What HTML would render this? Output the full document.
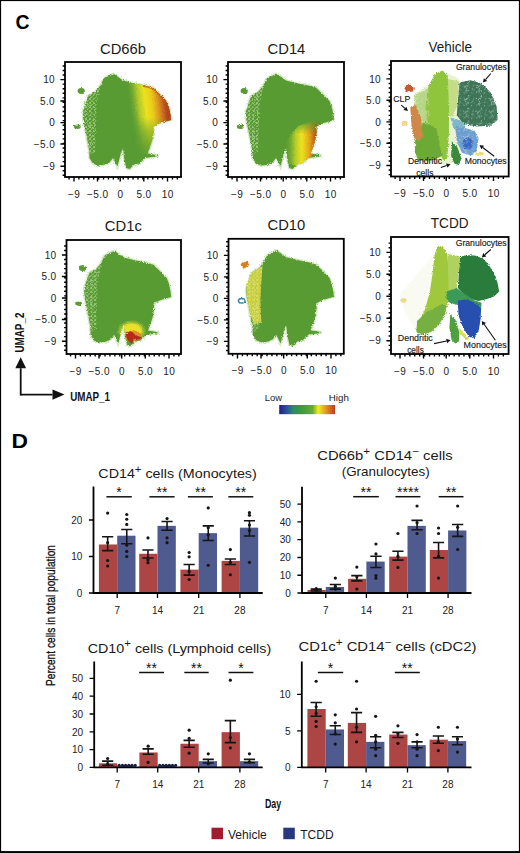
<!DOCTYPE html><html><head><meta charset="utf-8"><style>html,body{margin:0;padding:0;background:#fff;}svg{display:block}</style></head><body><svg width="520" height="853" viewBox="0 0 520 853" font-family='"Liberation Sans", sans-serif'>
<defs>
<filter id="rough" x="-5%" y="-5%" width="110%" height="110%"><feTurbulence type="fractalNoise" baseFrequency="0.9" numOctaves="2" seed="3" result="n"/><feDisplacementMap in="SourceGraphic" in2="n" scale="3" xChannelSelector="R" yChannelSelector="G"/></filter>
<pattern id="wspk" width="14" height="14" patternUnits="userSpaceOnUse"><g fill="#fff" opacity="0.55"><circle cx="8.7" cy="10.4" r="0.63"/><circle cx="13.2" cy="10.4" r="0.67"/><circle cx="0.4" cy="6.5" r="0.68"/><circle cx="9.1" cy="12.6" r="0.39"/><circle cx="6.6" cy="3.5" r="0.54"/><circle cx="8.0" cy="0.2" r="0.43"/><circle cx="3.9" cy="12.8" r="0.62"/><circle cx="2.2" cy="11.2" r="0.40"/><circle cx="8.6" cy="1.8" r="0.35"/><circle cx="12.2" cy="2.9" r="0.43"/><circle cx="13.8" cy="12.2" r="0.45"/><circle cx="13.5" cy="7.5" r="0.59"/><circle cx="2.9" cy="13.2" r="0.59"/><circle cx="13.5" cy="12.5" r="0.45"/><circle cx="5.1" cy="2.3" r="0.40"/><circle cx="0.9" cy="4.2" r="0.56"/><circle cx="0.0" cy="9.5" r="0.47"/><circle cx="4.3" cy="11.5" r="0.52"/><circle cx="4.4" cy="6.7" r="0.60"/><circle cx="0.8" cy="13.7" r="0.36"/><circle cx="10.5" cy="11.8" r="0.36"/><circle cx="11.0" cy="5.1" r="0.55"/></g></pattern>
<pattern id="wspk4" width="56" height="56" patternUnits="userSpaceOnUse"><g fill="#fff" opacity="0.6"><circle cx="0.5" cy="2.6" r="1.85"/><circle cx="53.5" cy="11.0" r="2.66"/><circle cx="52.1" cy="52.8" r="2.08"/><circle cx="19.9" cy="29.4" r="2.69"/><circle cx="6.1" cy="41.9" r="2.72"/><circle cx="48.1" cy="2.1" r="2.92"/><circle cx="5.1" cy="19.1" r="2.46"/><circle cx="51.4" cy="19.0" r="2.89"/><circle cx="30.5" cy="17.5" r="2.04"/><circle cx="9.9" cy="4.4" r="1.81"/><circle cx="38.6" cy="55.8" r="1.83"/><circle cx="2.7" cy="55.3" r="2.35"/><circle cx="22.7" cy="13.3" r="2.43"/><circle cx="46.3" cy="25.5" r="2.19"/><circle cx="3.1" cy="51.3" r="1.65"/><circle cx="27.6" cy="47.0" r="1.78"/><circle cx="41.0" cy="53.2" r="2.48"/><circle cx="44.1" cy="6.0" r="2.21"/><circle cx="8.4" cy="47.3" r="2.01"/><circle cx="25.4" cy="56.0" r="2.79"/><circle cx="54.7" cy="25.4" r="2.28"/><circle cx="40.9" cy="26.8" r="2.01"/><circle cx="22.6" cy="8.2" r="2.13"/><circle cx="55.3" cy="53.7" r="2.48"/></g></pattern>
<pattern id="speck" width="4" height="4" patternUnits="userSpaceOnUse"><circle cx="1" cy="1" r="0.85" fill="#e4f4d4" opacity="0.85"/><circle cx="3" cy="2.6" r="0.6" fill="#b8e094" opacity="0.85"/><circle cx="2.2" cy="3.6" r="0.45" fill="#f0faea" opacity="0.8"/></pattern>
<linearGradient id="gCD66" x1="56" y1="50" x2="104" y2="44" gradientUnits="userSpaceOnUse"><stop offset="0.16" stop-color="#589b32" stop-opacity="0"/><stop offset="0.38" stop-color="#b4ca2a" stop-opacity="0.95"/><stop offset="0.52" stop-color="#ece21e"/><stop offset="0.66" stop-color="#eacc1c"/><stop offset="0.8" stop-color="#d88a22"/><stop offset="0.93" stop-color="#b8481e"/><stop offset="1" stop-color="#a83a1c"/></linearGradient>
<linearGradient id="gFade" x1="0" y1="55" x2="0" y2="95" gradientUnits="userSpaceOnUse"><stop offset="0" stop-color="#fff"/><stop offset="0.35" stop-color="#888"/><stop offset="1" stop-color="#000"/></linearGradient>
<linearGradient id="gFade2" x1="0" y1="58" x2="0" y2="72" gradientUnits="userSpaceOnUse"><stop offset="0" stop-color="#000"/><stop offset="1" stop-color="#fff"/></linearGradient>
<mask id="mFade2" maskUnits="userSpaceOnUse" x="0" y="0" width="120" height="120"><rect x="0" y="0" width="120" height="120" fill="url(#gFade2)"/></mask>
<mask id="mFade" maskUnits="userSpaceOnUse" x="0" y="0" width="120" height="120"><rect x="0" y="0" width="120" height="120" fill="url(#gFade)"/></mask>
<linearGradient id="gCD14" x1="56" y1="0" x2="88.5" y2="0" gradientUnits="userSpaceOnUse"><stop offset="0" stop-color="#589b32" stop-opacity="0"/><stop offset="0.35" stop-color="#b4cc2a"/><stop offset="0.55" stop-color="#eee21e"/><stop offset="0.78" stop-color="#e2a41e"/><stop offset="1" stop-color="#b84a1c"/></linearGradient>
<linearGradient id="gCB" x1="0" y1="0" x2="1" y2="0"><stop offset="0" stop-color="#23207a"/><stop offset="0.12" stop-color="#2a4aa0"/><stop offset="0.25" stop-color="#2f8a6a"/><stop offset="0.4" stop-color="#3f9a3a"/><stop offset="0.6" stop-color="#6aaa30"/><stop offset="0.7" stop-color="#f2ec20"/><stop offset="0.82" stop-color="#e8a020"/><stop offset="1" stop-color="#c03a20"/></linearGradient>
<radialGradient id="gYel" cx="0.5" cy="0.5" r="0.5"><stop offset="0" stop-color="#f0e020"/><stop offset="0.6" stop-color="#e8e030"/><stop offset="1" stop-color="#b8d040" stop-opacity="0"/></radialGradient>
<radialGradient id="gHot" cx="0.5" cy="0.7" r="0.6"><stop offset="0" stop-color="#c0301c"/><stop offset="0.35" stop-color="#d8701e"/><stop offset="0.6" stop-color="#eadc24"/><stop offset="1" stop-color="#c8d440" stop-opacity="0"/></radialGradient>
</defs>
<rect x="0" y="0" width="520" height="853" fill="#fff"/>
<text transform="translate(15.6,28.7) scale(0.95,1)" font-size="20.5" font-weight="bold" fill="#000">C</text>
<text transform="translate(11.4,447.8) scale(1.13,1)" font-size="20.2" font-weight="bold" fill="#000">D</text>
<text x="100" y="53.6" font-size="14" fill="#1a1a1a" textLength="46" lengthAdjust="spacingAndGlyphs">CD66b</text>
<text x="267.6" y="53.6" font-size="14" fill="#1a1a1a" textLength="37.7" lengthAdjust="spacingAndGlyphs">CD14</text>
<text x="428.5" y="51.6" font-size="14" fill="#1a1a1a" textLength="43.5" lengthAdjust="spacingAndGlyphs">Vehicle</text>
<text x="104.8" y="231" font-size="14" fill="#1a1a1a" textLength="37" lengthAdjust="spacingAndGlyphs">CD1c</text>
<text x="267.5" y="229.6" font-size="14" fill="#1a1a1a" textLength="37.7" lengthAdjust="spacingAndGlyphs">CD10</text>
<text x="430.8" y="228.3" font-size="14" fill="#1a1a1a" textLength="37.7" lengthAdjust="spacingAndGlyphs">TCDD</text>
<g filter="url(#rough)"><g transform="translate(65,62) scale(1.0000,1.0000)">
<clipPath id="clipp1"><path d="M48.5 11.7 L52.4 14.5 L58.0 18.4 L69.2 21.2 L80.3 23.4 L88.1 25.7 L94.8 32.3 L101.5 39.0 L103.7 44.6 L105.4 52.4 L106.0 58.0 L94.8 61.3 L88.1 64.7 L88.7 69.2 L87.6 77.0 L84.8 85.9 L82.5 91.5 L92.6 93.2 L92.6 94.2 L80.3 95.9 L74.7 101.5 L69.2 102.6 L64.7 107.1 L61.3 106.0 L59.1 95.9 L58.0 85.9 L55.8 91.5 L52.4 104.8 L48.0 95.9 L44.6 100.4 L40.2 102.6 L33.5 103.7 L27.9 101.5 L24.5 95.9 L24.0 87.0 L22.3 78.0 L18.4 58.0 L17.8 50.0 L20.1 42.4 L23.4 33.5 L30.1 30.1 L34.6 24.5 L39.0 16.2 Z"/></clipPath>
<ellipse cx="16.2" cy="29" rx="3.6" ry="2.9" fill="#589b32"/><ellipse cx="12.3" cy="64.7" rx="3.4" ry="2.2" fill="#589b32"/>
<path d="M48.5 11.7 L52.4 14.5 L58.0 18.4 L69.2 21.2 L80.3 23.4 L88.1 25.7 L94.8 32.3 L101.5 39.0 L103.7 44.6 L105.4 52.4 L106.0 58.0 L94.8 61.3 L88.1 64.7 L88.7 69.2 L87.6 77.0 L84.8 85.9 L82.5 91.5 L92.6 93.2 L92.6 94.2 L80.3 95.9 L74.7 101.5 L69.2 102.6 L64.7 107.1 L61.3 106.0 L59.1 95.9 L58.0 85.9 L55.8 91.5 L52.4 104.8 L48.0 95.9 L44.6 100.4 L40.2 102.6 L33.5 103.7 L27.9 101.5 L24.5 95.9 L24.0 87.0 L22.3 78.0 L18.4 58.0 L17.8 50.0 L20.1 42.4 L23.4 33.5 L30.1 30.1 L34.6 24.5 L39.0 16.2 Z" fill="none" stroke="#c4e0a8" stroke-width="2.6" stroke-opacity="0.7"/>
<path d="M48.5 11.7 L52.4 14.5 L58.0 18.4 L69.2 21.2 L80.3 23.4 L88.1 25.7 L94.8 32.3 L101.5 39.0 L103.7 44.6 L105.4 52.4 L106.0 58.0 L94.8 61.3 L88.1 64.7 L88.7 69.2 L87.6 77.0 L84.8 85.9 L82.5 91.5 L92.6 93.2 L92.6 94.2 L80.3 95.9 L74.7 101.5 L69.2 102.6 L64.7 107.1 L61.3 106.0 L59.1 95.9 L58.0 85.9 L55.8 91.5 L52.4 104.8 L48.0 95.9 L44.6 100.4 L40.2 102.6 L33.5 103.7 L27.9 101.5 L24.5 95.9 L24.0 87.0 L22.3 78.0 L18.4 58.0 L17.8 50.0 L20.1 42.4 L23.4 33.5 L30.1 30.1 L34.6 24.5 L39.0 16.2 Z" fill="#589b32"/>
<g clip-path="url(#clipp1)"><path d="M14 20 L38 14 L32 40 L30 90 L20 95 Z" fill="url(#speck)"/><rect x="0" y="0" width="116" height="116" fill="url(#gCD66)" mask="url(#mFade)"/><path d="M78 23 L88.1 25.7 L94.8 32.3 L101.5 39 L103.7 44.6 L105.4 52.4 L106 58" fill="none" stroke="#c0501e" stroke-width="3" stroke-opacity="0.7"/></g>
</g></g>
<rect x="65" y="62" width="116" height="115" fill="none" stroke="#000" stroke-width="1.8"/>
<path d="M69.08 177v2.4 M74.00 177v2.4 M78.92 177v2.4 M83.84 177v2.4 M88.76 177v2.4 M93.68 177v2.4 M98.61 177v2.4 M103.53 177v2.4 M108.45 177v2.4 M113.37 177v2.4 M118.29 177v2.4 M123.21 177v2.4 M128.13 177v2.4 M133.05 177v2.4 M137.97 177v2.4 M142.89 177v2.4 M147.82 177v2.4 M152.74 177v2.4 M157.66 177v2.4 M162.58 177v2.4 M167.50 177v2.4 M172.42 177v2.4 M177.34 177v2.4 M74.00 177v4.6 M97.50 177v4.6 M120.20 177v4.6 M143.80 177v4.6 M167.50 177v4.6 M65 65.93h-2.4 M65 70.48h-2.4 M65 75.04h-2.4 M65 79.60h-2.4 M65 84.16h-2.4 M65 88.72h-2.4 M65 93.27h-2.4 M65 97.83h-2.4 M65 102.39h-2.4 M65 106.95h-2.4 M65 111.51h-2.4 M65 116.06h-2.4 M65 120.62h-2.4 M65 125.18h-2.4 M65 129.74h-2.4 M65 134.29h-2.4 M65 138.85h-2.4 M65 143.41h-2.4 M65 147.97h-2.4 M65 152.53h-2.4 M65 157.08h-2.4 M65 161.64h-2.4 M65 166.20h-2.4 M65 170.76h-2.4 M65 175.32h-2.4 M65 79.60h-4.6 M65 101.00h-4.6 M65 122.60h-4.6 M65 144.00h-4.6 M65 166.20h-4.6" stroke="#000" stroke-width="1.4" fill="none"/>
<text x="74.2" y="197.5" text-anchor="middle" font-size="10" fill="#222" letter-spacing="0.4">−9</text>
<text x="97.7" y="197.5" text-anchor="middle" font-size="10" fill="#222" letter-spacing="0.4">−5.0</text>
<text x="120.4" y="197.5" text-anchor="middle" font-size="10" fill="#222" letter-spacing="0.4">0</text>
<text x="144.0" y="197.5" text-anchor="middle" font-size="10" fill="#222" letter-spacing="0.4">5.0</text>
<text x="167.7" y="197.5" text-anchor="middle" font-size="10" fill="#222" letter-spacing="0.4">10</text>
<text x="55.1" y="83.2" text-anchor="end" font-size="10" fill="#222" letter-spacing="0.4">10</text>
<text x="55.1" y="104.6" text-anchor="end" font-size="10" fill="#222" letter-spacing="0.4">5.0</text>
<text x="55.1" y="126.2" text-anchor="end" font-size="10" fill="#222" letter-spacing="0.4">0</text>
<text x="55.1" y="147.6" text-anchor="end" font-size="10" fill="#222" letter-spacing="0.4">−5.0</text>
<text x="55.1" y="169.8" text-anchor="end" font-size="10" fill="#222" letter-spacing="0.4">−9</text>
<g filter="url(#rough)"><g transform="translate(228,62) scale(1.0000,1.0000)">
<clipPath id="clipp2"><path d="M48.5 11.7 L52.4 14.5 L58.0 18.4 L69.2 21.2 L80.3 23.4 L88.1 25.7 L94.8 32.3 L101.5 39.0 L103.7 44.6 L105.4 52.4 L106.0 58.0 L94.8 61.3 L88.1 64.7 L88.7 69.2 L87.6 77.0 L84.8 85.9 L82.5 91.5 L92.6 93.2 L92.6 94.2 L80.3 95.9 L74.7 101.5 L69.2 102.6 L64.7 107.1 L61.3 106.0 L59.1 95.9 L58.0 85.9 L55.8 91.5 L52.4 104.8 L48.0 95.9 L44.6 100.4 L40.2 102.6 L33.5 103.7 L27.9 101.5 L24.5 95.9 L24.0 87.0 L22.3 78.0 L18.4 58.0 L17.8 50.0 L20.1 42.4 L23.4 33.5 L30.1 30.1 L34.6 24.5 L39.0 16.2 Z"/></clipPath>
<ellipse cx="16.2" cy="29" rx="3.6" ry="2.9" fill="#589b32"/><ellipse cx="12.3" cy="64.7" rx="3.4" ry="2.2" fill="#589b32"/>
<path d="M48.5 11.7 L52.4 14.5 L58.0 18.4 L69.2 21.2 L80.3 23.4 L88.1 25.7 L94.8 32.3 L101.5 39.0 L103.7 44.6 L105.4 52.4 L106.0 58.0 L94.8 61.3 L88.1 64.7 L88.7 69.2 L87.6 77.0 L84.8 85.9 L82.5 91.5 L92.6 93.2 L92.6 94.2 L80.3 95.9 L74.7 101.5 L69.2 102.6 L64.7 107.1 L61.3 106.0 L59.1 95.9 L58.0 85.9 L55.8 91.5 L52.4 104.8 L48.0 95.9 L44.6 100.4 L40.2 102.6 L33.5 103.7 L27.9 101.5 L24.5 95.9 L24.0 87.0 L22.3 78.0 L18.4 58.0 L17.8 50.0 L20.1 42.4 L23.4 33.5 L30.1 30.1 L34.6 24.5 L39.0 16.2 Z" fill="none" stroke="#c4e0a8" stroke-width="2.6" stroke-opacity="0.7"/>
<path d="M48.5 11.7 L52.4 14.5 L58.0 18.4 L69.2 21.2 L80.3 23.4 L88.1 25.7 L94.8 32.3 L101.5 39.0 L103.7 44.6 L105.4 52.4 L106.0 58.0 L94.8 61.3 L88.1 64.7 L88.7 69.2 L87.6 77.0 L84.8 85.9 L82.5 91.5 L92.6 93.2 L92.6 94.2 L80.3 95.9 L74.7 101.5 L69.2 102.6 L64.7 107.1 L61.3 106.0 L59.1 95.9 L58.0 85.9 L55.8 91.5 L52.4 104.8 L48.0 95.9 L44.6 100.4 L40.2 102.6 L33.5 103.7 L27.9 101.5 L24.5 95.9 L24.0 87.0 L22.3 78.0 L18.4 58.0 L17.8 50.0 L20.1 42.4 L23.4 33.5 L30.1 30.1 L34.6 24.5 L39.0 16.2 Z" fill="#589b32"/>
<g clip-path="url(#clipp2)"><path d="M14 20 L38 14 L32 40 L30 90 L20 95 Z" fill="url(#speck)"/><path d="M54 84 L70 64 L92 56 L90 88 L82 95 L75 106 L56 100 Z" fill="url(#gCD14)" mask="url(#mFade2)"/></g>
</g></g>
<rect x="228" y="62" width="116" height="115" fill="none" stroke="#000" stroke-width="1.8"/>
<path d="M232.08 177v2.4 M237.00 177v2.4 M241.92 177v2.4 M246.84 177v2.4 M251.76 177v2.4 M256.68 177v2.4 M261.61 177v2.4 M266.53 177v2.4 M271.45 177v2.4 M276.37 177v2.4 M281.29 177v2.4 M286.21 177v2.4 M291.13 177v2.4 M296.05 177v2.4 M300.97 177v2.4 M305.89 177v2.4 M310.82 177v2.4 M315.74 177v2.4 M320.66 177v2.4 M325.58 177v2.4 M330.50 177v2.4 M335.42 177v2.4 M340.34 177v2.4 M237.00 177v4.6 M260.50 177v4.6 M283.20 177v4.6 M306.80 177v4.6 M330.50 177v4.6 M228 65.93h-2.4 M228 70.48h-2.4 M228 75.04h-2.4 M228 79.60h-2.4 M228 84.16h-2.4 M228 88.72h-2.4 M228 93.27h-2.4 M228 97.83h-2.4 M228 102.39h-2.4 M228 106.95h-2.4 M228 111.51h-2.4 M228 116.06h-2.4 M228 120.62h-2.4 M228 125.18h-2.4 M228 129.74h-2.4 M228 134.29h-2.4 M228 138.85h-2.4 M228 143.41h-2.4 M228 147.97h-2.4 M228 152.53h-2.4 M228 157.08h-2.4 M228 161.64h-2.4 M228 166.20h-2.4 M228 170.76h-2.4 M228 175.32h-2.4 M228 79.60h-4.6 M228 101.00h-4.6 M228 122.60h-4.6 M228 144.00h-4.6 M228 166.20h-4.6" stroke="#000" stroke-width="1.4" fill="none"/>
<text x="237.2" y="197.5" text-anchor="middle" font-size="10" fill="#222" letter-spacing="0.4">−9</text>
<text x="260.7" y="197.5" text-anchor="middle" font-size="10" fill="#222" letter-spacing="0.4">−5.0</text>
<text x="283.4" y="197.5" text-anchor="middle" font-size="10" fill="#222" letter-spacing="0.4">0</text>
<text x="307.0" y="197.5" text-anchor="middle" font-size="10" fill="#222" letter-spacing="0.4">5.0</text>
<text x="330.7" y="197.5" text-anchor="middle" font-size="10" fill="#222" letter-spacing="0.4">10</text>
<text x="218.1" y="83.2" text-anchor="end" font-size="10" fill="#222" letter-spacing="0.4">10</text>
<text x="218.1" y="104.6" text-anchor="end" font-size="10" fill="#222" letter-spacing="0.4">5.0</text>
<text x="218.1" y="126.2" text-anchor="end" font-size="10" fill="#222" letter-spacing="0.4">0</text>
<text x="218.1" y="147.6" text-anchor="end" font-size="10" fill="#222" letter-spacing="0.4">−5.0</text>
<text x="218.1" y="169.8" text-anchor="end" font-size="10" fill="#222" letter-spacing="0.4">−9</text>
<g filter="url(#rough)"><g transform="translate(66.5,239) scale(0.9871,1.0000)">
<clipPath id="clipp4"><path d="M48.5 11.7 L52.4 14.5 L58.0 18.4 L69.2 21.2 L80.3 23.4 L88.1 25.7 L94.8 32.3 L101.5 39.0 L103.7 44.6 L105.4 52.4 L106.0 58.0 L94.8 61.3 L88.1 64.7 L88.7 69.2 L87.6 77.0 L84.8 85.9 L82.5 91.5 L92.6 93.2 L92.6 94.2 L80.3 95.9 L74.7 101.5 L69.2 102.6 L64.7 107.1 L61.3 106.0 L59.1 95.9 L58.0 85.9 L55.8 91.5 L52.4 104.8 L48.0 95.9 L44.6 100.4 L40.2 102.6 L33.5 103.7 L27.9 101.5 L24.5 95.9 L24.0 87.0 L22.3 78.0 L18.4 58.0 L17.8 50.0 L20.1 42.4 L23.4 33.5 L30.1 30.1 L34.6 24.5 L39.0 16.2 Z"/></clipPath>
<ellipse cx="16.2" cy="29" rx="3.6" ry="2.9" fill="#589b32"/><ellipse cx="12.3" cy="64.7" rx="3.4" ry="2.2" fill="#589b32"/>
<path d="M48.5 11.7 L52.4 14.5 L58.0 18.4 L69.2 21.2 L80.3 23.4 L88.1 25.7 L94.8 32.3 L101.5 39.0 L103.7 44.6 L105.4 52.4 L106.0 58.0 L94.8 61.3 L88.1 64.7 L88.7 69.2 L87.6 77.0 L84.8 85.9 L82.5 91.5 L92.6 93.2 L92.6 94.2 L80.3 95.9 L74.7 101.5 L69.2 102.6 L64.7 107.1 L61.3 106.0 L59.1 95.9 L58.0 85.9 L55.8 91.5 L52.4 104.8 L48.0 95.9 L44.6 100.4 L40.2 102.6 L33.5 103.7 L27.9 101.5 L24.5 95.9 L24.0 87.0 L22.3 78.0 L18.4 58.0 L17.8 50.0 L20.1 42.4 L23.4 33.5 L30.1 30.1 L34.6 24.5 L39.0 16.2 Z" fill="none" stroke="#c4e0a8" stroke-width="2.6" stroke-opacity="0.7"/>
<path d="M48.5 11.7 L52.4 14.5 L58.0 18.4 L69.2 21.2 L80.3 23.4 L88.1 25.7 L94.8 32.3 L101.5 39.0 L103.7 44.6 L105.4 52.4 L106.0 58.0 L94.8 61.3 L88.1 64.7 L88.7 69.2 L87.6 77.0 L84.8 85.9 L82.5 91.5 L92.6 93.2 L92.6 94.2 L80.3 95.9 L74.7 101.5 L69.2 102.6 L64.7 107.1 L61.3 106.0 L59.1 95.9 L58.0 85.9 L55.8 91.5 L52.4 104.8 L48.0 95.9 L44.6 100.4 L40.2 102.6 L33.5 103.7 L27.9 101.5 L24.5 95.9 L24.0 87.0 L22.3 78.0 L18.4 58.0 L17.8 50.0 L20.1 42.4 L23.4 33.5 L30.1 30.1 L34.6 24.5 L39.0 16.2 Z" fill="#589b32"/>
<g clip-path="url(#clipp4)"><path d="M14 20 L38 14 L32 40 L30 90 L20 95 Z" fill="url(#speck)"/><ellipse cx="66" cy="92" rx="15" ry="11" fill="url(#gYel)"/><ellipse cx="67.5" cy="97" rx="8.5" ry="5.5" fill="#dc7a1e" opacity="0.75"/><path d="M59.5 95 L65 92 L70 96 L77 99 L72 100.5 L68 99.5 L66.5 105 L62 101 Z" fill="#b42a1c"/></g>
</g></g>
<rect x="66.5" y="240" width="114.5" height="114" fill="none" stroke="#000" stroke-width="1.8"/>
<path d="M70.58 354v2.4 M75.50 354v2.4 M80.42 354v2.4 M85.34 354v2.4 M90.26 354v2.4 M95.18 354v2.4 M100.11 354v2.4 M105.03 354v2.4 M109.95 354v2.4 M114.87 354v2.4 M119.79 354v2.4 M124.71 354v2.4 M129.63 354v2.4 M134.55 354v2.4 M139.47 354v2.4 M144.39 354v2.4 M149.32 354v2.4 M154.24 354v2.4 M159.16 354v2.4 M164.08 354v2.4 M169.00 354v2.4 M173.92 354v2.4 M178.84 354v2.4 M75.50 354v4.6 M99.00 354v4.6 M121.70 354v4.6 M145.30 354v4.6 M169.00 354v4.6 M66.5 245.93h-2.4 M66.5 250.46h-2.4 M66.5 255.00h-2.4 M66.5 259.54h-2.4 M66.5 264.07h-2.4 M66.5 268.61h-2.4 M66.5 273.15h-2.4 M66.5 277.68h-2.4 M66.5 282.22h-2.4 M66.5 286.76h-2.4 M66.5 291.29h-2.4 M66.5 295.83h-2.4 M66.5 300.37h-2.4 M66.5 304.91h-2.4 M66.5 309.44h-2.4 M66.5 313.98h-2.4 M66.5 318.52h-2.4 M66.5 323.05h-2.4 M66.5 327.59h-2.4 M66.5 332.13h-2.4 M66.5 336.66h-2.4 M66.5 341.20h-2.4 M66.5 345.74h-2.4 M66.5 350.27h-2.4 M66.5 255.00h-4.6 M66.5 276.50h-4.6 M66.5 298.00h-4.6 M66.5 319.50h-4.6 M66.5 341.20h-4.6" stroke="#000" stroke-width="1.4" fill="none"/>
<text x="75.7" y="374.5" text-anchor="middle" font-size="10" fill="#222" letter-spacing="0.4">−9</text>
<text x="99.2" y="374.5" text-anchor="middle" font-size="10" fill="#222" letter-spacing="0.4">−5.0</text>
<text x="121.9" y="374.5" text-anchor="middle" font-size="10" fill="#222" letter-spacing="0.4">0</text>
<text x="145.5" y="374.5" text-anchor="middle" font-size="10" fill="#222" letter-spacing="0.4">5.0</text>
<text x="169.2" y="374.5" text-anchor="middle" font-size="10" fill="#222" letter-spacing="0.4">10</text>
<text x="56.6" y="258.6" text-anchor="end" font-size="10" fill="#222" letter-spacing="0.4">10</text>
<text x="56.6" y="280.1" text-anchor="end" font-size="10" fill="#222" letter-spacing="0.4">5.0</text>
<text x="56.6" y="301.6" text-anchor="end" font-size="10" fill="#222" letter-spacing="0.4">0</text>
<text x="56.6" y="323.1" text-anchor="end" font-size="10" fill="#222" letter-spacing="0.4">−5.0</text>
<text x="56.6" y="344.8" text-anchor="end" font-size="10" fill="#222" letter-spacing="0.4">−9</text>
<g filter="url(#rough)"><g transform="translate(228.5,238.8) scale(0.9940,1.0000)">
<clipPath id="clipp5"><path d="M48.5 11.7 L52.4 14.5 L58.0 18.4 L69.2 21.2 L80.3 23.4 L88.1 25.7 L94.8 32.3 L101.5 39.0 L103.7 44.6 L105.4 52.4 L106.0 58.0 L94.8 61.3 L88.1 64.7 L88.7 69.2 L87.6 77.0 L84.8 85.9 L82.5 91.5 L92.6 93.2 L92.6 94.2 L80.3 95.9 L74.7 101.5 L69.2 102.6 L64.7 107.1 L61.3 106.0 L59.1 95.9 L58.0 85.9 L55.8 91.5 L52.4 104.8 L48.0 95.9 L44.6 100.4 L40.2 102.6 L33.5 103.7 L27.9 101.5 L24.5 95.9 L24.0 87.0 L22.3 78.0 L18.4 58.0 L17.8 50.0 L20.1 42.4 L23.4 33.5 L30.1 30.1 L34.6 24.5 L39.0 16.2 Z"/></clipPath>
<path d="M12 25 L19 22 L21 27 L15 30 Z" fill="#d8801e"/><ellipse cx="13.4" cy="62" rx="3.4" ry="2.3" fill="none" stroke="#3a80a8" stroke-width="1.4"/>
<path d="M48.5 11.7 L52.4 14.5 L58.0 18.4 L69.2 21.2 L80.3 23.4 L88.1 25.7 L94.8 32.3 L101.5 39.0 L103.7 44.6 L105.4 52.4 L106.0 58.0 L94.8 61.3 L88.1 64.7 L88.7 69.2 L87.6 77.0 L84.8 85.9 L82.5 91.5 L92.6 93.2 L92.6 94.2 L80.3 95.9 L74.7 101.5 L69.2 102.6 L64.7 107.1 L61.3 106.0 L59.1 95.9 L58.0 85.9 L55.8 91.5 L52.4 104.8 L48.0 95.9 L44.6 100.4 L40.2 102.6 L33.5 103.7 L27.9 101.5 L24.5 95.9 L24.0 87.0 L22.3 78.0 L18.4 58.0 L17.8 50.0 L20.1 42.4 L23.4 33.5 L30.1 30.1 L34.6 24.5 L39.0 16.2 Z" fill="none" stroke="#c4e0a8" stroke-width="2.6" stroke-opacity="0.7"/>
<path d="M48.5 11.7 L52.4 14.5 L58.0 18.4 L69.2 21.2 L80.3 23.4 L88.1 25.7 L94.8 32.3 L101.5 39.0 L103.7 44.6 L105.4 52.4 L106.0 58.0 L94.8 61.3 L88.1 64.7 L88.7 69.2 L87.6 77.0 L84.8 85.9 L82.5 91.5 L92.6 93.2 L92.6 94.2 L80.3 95.9 L74.7 101.5 L69.2 102.6 L64.7 107.1 L61.3 106.0 L59.1 95.9 L58.0 85.9 L55.8 91.5 L52.4 104.8 L48.0 95.9 L44.6 100.4 L40.2 102.6 L33.5 103.7 L27.9 101.5 L24.5 95.9 L24.0 87.0 L22.3 78.0 L18.4 58.0 L17.8 50.0 L20.1 42.4 L23.4 33.5 L30.1 30.1 L34.6 24.5 L39.0 16.2 Z" fill="#589b32"/>
<g clip-path="url(#clipp5)"><path d="M14 20 L38 14 L32 40 L30 90 L20 95 Z" fill="url(#speck)"/><path d="M17 40 L26 30 L34 28 L32 60 L33 84 L26 86 L20 70 Z" fill="#e2d62a" opacity="0.8"/><path d="M17 40 L26 30 L34 28 L32 60 L33 84 L26 86 L20 70 Z" fill="url(#speck)"/></g>
</g></g>
<rect x="228.5" y="238.8" width="115.30000000000001" height="115.0" fill="none" stroke="#000" stroke-width="1.8"/>
<path d="M232.58 353.8v2.4 M237.50 353.8v2.4 M242.42 353.8v2.4 M247.34 353.8v2.4 M252.26 353.8v2.4 M257.18 353.8v2.4 M262.11 353.8v2.4 M267.03 353.8v2.4 M271.95 353.8v2.4 M276.87 353.8v2.4 M281.79 353.8v2.4 M286.71 353.8v2.4 M291.63 353.8v2.4 M296.55 353.8v2.4 M301.47 353.8v2.4 M306.39 353.8v2.4 M311.32 353.8v2.4 M316.24 353.8v2.4 M321.16 353.8v2.4 M326.08 353.8v2.4 M331.00 353.8v2.4 M335.92 353.8v2.4 M340.84 353.8v2.4 M237.50 353.8v4.6 M261.00 353.8v4.6 M283.70 353.8v4.6 M307.30 353.8v4.6 M331.00 353.8v4.6 M228.5 241.82h-2.4 M228.5 246.35h-2.4 M228.5 250.87h-2.4 M228.5 255.40h-2.4 M228.5 259.93h-2.4 M228.5 264.45h-2.4 M228.5 268.98h-2.4 M228.5 273.51h-2.4 M228.5 278.03h-2.4 M228.5 282.56h-2.4 M228.5 287.08h-2.4 M228.5 291.61h-2.4 M228.5 296.14h-2.4 M228.5 300.66h-2.4 M228.5 305.19h-2.4 M228.5 309.72h-2.4 M228.5 314.24h-2.4 M228.5 318.77h-2.4 M228.5 323.29h-2.4 M228.5 327.82h-2.4 M228.5 332.35h-2.4 M228.5 336.87h-2.4 M228.5 341.40h-2.4 M228.5 345.93h-2.4 M228.5 350.45h-2.4 M228.5 255.40h-4.6 M228.5 276.90h-4.6 M228.5 298.40h-4.6 M228.5 319.90h-4.6 M228.5 341.40h-4.6" stroke="#000" stroke-width="1.4" fill="none"/>
<text x="237.7" y="374.3" text-anchor="middle" font-size="10" fill="#222" letter-spacing="0.4">−9</text>
<text x="261.2" y="374.3" text-anchor="middle" font-size="10" fill="#222" letter-spacing="0.4">−5.0</text>
<text x="283.9" y="374.3" text-anchor="middle" font-size="10" fill="#222" letter-spacing="0.4">0</text>
<text x="307.5" y="374.3" text-anchor="middle" font-size="10" fill="#222" letter-spacing="0.4">5.0</text>
<text x="331.2" y="374.3" text-anchor="middle" font-size="10" fill="#222" letter-spacing="0.4">10</text>
<text x="218.6" y="259.0" text-anchor="end" font-size="10" fill="#222" letter-spacing="0.4">10</text>
<text x="218.6" y="280.5" text-anchor="end" font-size="10" fill="#222" letter-spacing="0.4">5.0</text>
<text x="218.6" y="302.0" text-anchor="end" font-size="10" fill="#222" letter-spacing="0.4">0</text>
<text x="218.6" y="323.5" text-anchor="end" font-size="10" fill="#222" letter-spacing="0.4">−5.0</text>
<text x="218.6" y="345.0" text-anchor="end" font-size="10" fill="#222" letter-spacing="0.4">−9</text>
<g filter="url(#rough)"><g transform="translate(391,61) scale(0.22692,0.22603)">
<path d="M100.0 150.0 L170.0 100.0 L230.0 45.0 L300.0 80.0 L310.0 270.0 L300.0 440.0 L240.0 460.0 L110.0 440.0 L95.0 300.0 Z" fill="#d8e8b0" opacity="0.55"/>
<path d="M105.0 150.0 L165.0 120.0 L175.0 300.0 L170.0 430.0 L115.0 425.0 L98.0 300.0 Z" fill="#a8d070" opacity="0.8"/>
<path d="M250.0 80.0 L300.0 90.0 L290.0 200.0 L270.0 250.0 L255.0 240.0 Z" fill="#c4dc88" />
<path d="M195.0 55.0 L228.0 42.0 L250.0 70.0 L256.0 200.0 L255.0 330.0 L248.0 430.0 L232.0 445.0 L222.0 420.0 L165.0 300.0 L152.0 200.0 L165.0 110.0 Z" fill="#8fc43c" />
<path d="M110.0 300.0 L150.0 270.0 L200.0 300.0 L225.0 420.0 L180.0 440.0 L120.0 440.0 L105.0 400.0 Z" fill="#6aaa34" />
<path d="M302.0 95.0 L350.0 85.0 L400.0 100.0 L440.0 140.0 L465.0 200.0 L470.0 260.0 L440.0 285.0 L380.0 290.0 L320.0 280.0 L290.0 240.0 L296.0 160.0 Z" fill="#3c7456" />
<path d="M262.0 250.0 L305.0 262.0 L330.0 290.0 L300.0 310.0 L275.0 300.0 Z" fill="#80b8c8" />
<path d="M282.0 285.0 L325.0 295.0 L368.0 310.0 L386.0 340.0 L378.0 395.0 L350.0 420.0 L312.0 405.0 L290.0 355.0 Z" fill="#6c9ed0" />
<ellipse cx="338" cy="365" rx="22" ry="28" fill="#3a68c0"/>
<path d="M302.0 95.0 L350.0 85.0 L400.0 100.0 L440.0 140.0 L465.0 200.0 L470.0 260.0 L440.0 285.0 L380.0 290.0 L320.0 280.0 L290.0 240.0 L296.0 160.0 Z" fill="url(#wspk4)" />
<path d="M282.0 285.0 L325.0 295.0 L368.0 310.0 L386.0 340.0 L378.0 395.0 L350.0 420.0 L312.0 405.0 L290.0 355.0 Z" fill="url(#wspk4)" />
<path d="M105.0 150.0 L165.0 120.0 L170.0 280.0 L100.0 290.0 Z" fill="url(#wspk4)" />
<path d="M268.0 355.0 L292.0 380.0 L310.0 430.0 L300.0 460.0 L280.0 455.0 L265.0 420.0 Z" fill="#3a8a3a" />
<path d="M85.0 205.0 L108.0 195.0 L132.0 250.0 L140.0 330.0 L125.0 355.0 L102.0 340.0 L90.0 280.0 Z" fill="#d08848" />
<path d="M58.0 120.0 L80.0 100.0 L100.0 118.0 L98.0 135.0 L70.0 138.0 Z" fill="#c45a30" />
<ellipse cx="60" cy="275" rx="14" ry="11" fill="#f0d890"/>
<ellipse cx="390" cy="410" rx="20" ry="9" fill="#e8e070"/>
</g></g>
<rect x="391" y="61" width="117.69999999999999" height="115.5" fill="none" stroke="#000" stroke-width="1.8"/>
<path d="M395.08 176.5v2.4 M400.00 176.5v2.4 M404.92 176.5v2.4 M409.84 176.5v2.4 M414.76 176.5v2.4 M419.68 176.5v2.4 M424.61 176.5v2.4 M429.53 176.5v2.4 M434.45 176.5v2.4 M439.37 176.5v2.4 M444.29 176.5v2.4 M449.21 176.5v2.4 M454.13 176.5v2.4 M459.05 176.5v2.4 M463.97 176.5v2.4 M468.89 176.5v2.4 M473.82 176.5v2.4 M478.74 176.5v2.4 M483.66 176.5v2.4 M488.58 176.5v2.4 M493.50 176.5v2.4 M498.42 176.5v2.4 M503.34 176.5v2.4 M400.00 176.5v4.6 M423.50 176.5v4.6 M446.20 176.5v4.6 M469.80 176.5v4.6 M493.50 176.5v4.6 M391 65.23h-2.4 M391 69.78h-2.4 M391 74.34h-2.4 M391 78.90h-2.4 M391 83.46h-2.4 M391 88.02h-2.4 M391 92.57h-2.4 M391 97.13h-2.4 M391 101.69h-2.4 M391 106.25h-2.4 M391 110.81h-2.4 M391 115.36h-2.4 M391 119.92h-2.4 M391 124.48h-2.4 M391 129.04h-2.4 M391 133.59h-2.4 M391 138.15h-2.4 M391 142.71h-2.4 M391 147.27h-2.4 M391 151.83h-2.4 M391 156.38h-2.4 M391 160.94h-2.4 M391 165.50h-2.4 M391 170.06h-2.4 M391 174.62h-2.4 M391 78.90h-4.6 M391 100.30h-4.6 M391 121.90h-4.6 M391 143.30h-4.6 M391 165.50h-4.6" stroke="#000" stroke-width="1.4" fill="none"/>
<text x="400.2" y="197.0" text-anchor="middle" font-size="10" fill="#222" letter-spacing="0.4">−9</text>
<text x="423.7" y="197.0" text-anchor="middle" font-size="10" fill="#222" letter-spacing="0.4">−5.0</text>
<text x="446.4" y="197.0" text-anchor="middle" font-size="10" fill="#222" letter-spacing="0.4">0</text>
<text x="470.0" y="197.0" text-anchor="middle" font-size="10" fill="#222" letter-spacing="0.4">5.0</text>
<text x="493.7" y="197.0" text-anchor="middle" font-size="10" fill="#222" letter-spacing="0.4">10</text>
<text x="381.1" y="82.5" text-anchor="end" font-size="10" fill="#222" letter-spacing="0.4">10</text>
<text x="381.1" y="103.9" text-anchor="end" font-size="10" fill="#222" letter-spacing="0.4">5.0</text>
<text x="381.1" y="125.5" text-anchor="end" font-size="10" fill="#222" letter-spacing="0.4">0</text>
<text x="381.1" y="146.9" text-anchor="end" font-size="10" fill="#222" letter-spacing="0.4">−5.0</text>
<text x="381.1" y="169.1" text-anchor="end" font-size="10" fill="#222" letter-spacing="0.4">−9</text>
<g filter="url(#rough)"><g transform="translate(391,237) scale(0.22635,0.22674)">
<path d="M40.0 250.0 L120.0 160.0 L200.0 60.0 L260.0 100.0 L260.0 300.0 L200.0 420.0 L120.0 430.0 L60.0 330.0 Z" fill="#dfe8b8" opacity="0.2"/>
<path d="M205.0 45.0 L228.0 40.0 L248.0 75.0 L255.0 140.0 L258.0 250.0 L250.0 300.0 L230.0 350.0 L200.0 390.0 L165.0 420.0 L130.0 430.0 L115.0 415.0 L120.0 380.0 L150.0 320.0 L172.0 240.0 L185.0 150.0 L192.0 80.0 Z" fill="#a0c83c" />
<path d="M115.0 370.0 L160.0 330.0 L220.0 300.0 L245.0 300.0 L240.0 340.0 L210.0 390.0 L175.0 420.0 L135.0 432.0 L112.0 420.0 Z" fill="#76b040" />
<path d="M250.0 75.0 L305.0 85.0 L300.0 150.0 L290.0 230.0 L255.0 250.0 Z" fill="#b0d060" />
<path d="M305.0 88.0 L335.0 80.0 L370.0 82.0 L405.0 95.0 L430.0 120.0 L455.0 160.0 L470.0 200.0 L478.0 240.0 L455.0 262.0 L420.0 275.0 L385.0 282.0 L350.0 272.0 L320.0 250.0 L295.0 225.0 L300.0 160.0 Z" fill="#2b7b3e" />
<path d="M245.0 240.0 L290.0 225.0 L330.0 255.0 L370.0 280.0 L400.0 290.0 L398.0 320.0 L370.0 335.0 L330.0 320.0 L295.0 300.0 L260.0 290.0 L245.0 270.0 Z" fill="#3a9a58" />
<path d="M295.0 280.0 L335.0 275.0 L375.0 292.0 L398.0 315.0 L396.0 360.0 L388.0 410.0 L370.0 445.0 L345.0 440.0 L318.0 400.0 L298.0 345.0 Z" fill="#2650b0" />
<path d="M262.0 340.0 L285.0 365.0 L302.0 420.0 L300.0 460.0 L285.0 470.0 L268.0 455.0 L258.0 400.0 Z" fill="#50a040" />
<path d="M300.0 400.0 L320.0 420.0 L345.0 450.0 L335.0 455.0 L305.0 430.0 Z" fill="#d8dc50" />
<ellipse cx="55" cy="280" rx="14" ry="10" fill="#e8dc90"/>
</g></g>
<rect x="391" y="237" width="117.60000000000002" height="117" fill="none" stroke="#000" stroke-width="1.8"/>
<path d="M395.08 354v2.4 M400.00 354v2.4 M404.92 354v2.4 M409.84 354v2.4 M414.76 354v2.4 M419.68 354v2.4 M424.61 354v2.4 M429.53 354v2.4 M434.45 354v2.4 M439.37 354v2.4 M444.29 354v2.4 M449.21 354v2.4 M454.13 354v2.4 M459.05 354v2.4 M463.97 354v2.4 M468.89 354v2.4 M473.82 354v2.4 M478.74 354v2.4 M483.66 354v2.4 M488.58 354v2.4 M493.50 354v2.4 M498.42 354v2.4 M503.34 354v2.4 M400.00 354v4.6 M423.50 354v4.6 M446.20 354v4.6 M469.80 354v4.6 M493.50 354v4.6 M391 243.11h-2.4 M391 247.75h-2.4 M391 252.40h-2.4 M391 257.05h-2.4 M391 261.69h-2.4 M391 266.34h-2.4 M391 270.99h-2.4 M391 275.64h-2.4 M391 280.28h-2.4 M391 284.93h-2.4 M391 289.58h-2.4 M391 294.23h-2.4 M391 298.87h-2.4 M391 303.52h-2.4 M391 308.17h-2.4 M391 312.82h-2.4 M391 317.46h-2.4 M391 322.11h-2.4 M391 326.76h-2.4 M391 331.41h-2.4 M391 336.05h-2.4 M391 340.70h-2.4 M391 345.35h-2.4 M391 349.99h-2.4 M391 252.40h-4.6 M391 274.20h-4.6 M391 296.30h-4.6 M391 318.20h-4.6 M391 340.70h-4.6" stroke="#000" stroke-width="1.4" fill="none"/>
<text x="400.2" y="374.5" text-anchor="middle" font-size="10" fill="#222" letter-spacing="0.4">−9</text>
<text x="423.7" y="374.5" text-anchor="middle" font-size="10" fill="#222" letter-spacing="0.4">−5.0</text>
<text x="446.4" y="374.5" text-anchor="middle" font-size="10" fill="#222" letter-spacing="0.4">0</text>
<text x="470.0" y="374.5" text-anchor="middle" font-size="10" fill="#222" letter-spacing="0.4">5.0</text>
<text x="493.7" y="374.5" text-anchor="middle" font-size="10" fill="#222" letter-spacing="0.4">10</text>
<text x="381.1" y="256.0" text-anchor="end" font-size="10" fill="#222" letter-spacing="0.4">10</text>
<text x="381.1" y="277.8" text-anchor="end" font-size="10" fill="#222" letter-spacing="0.4">5.0</text>
<text x="381.1" y="299.9" text-anchor="end" font-size="10" fill="#222" letter-spacing="0.4">0</text>
<text x="381.1" y="321.8" text-anchor="end" font-size="10" fill="#222" letter-spacing="0.4">−5.0</text>
<text x="381.1" y="344.3" text-anchor="end" font-size="10" fill="#222" letter-spacing="0.4">−9</text>
<text x="455.9" y="70.2" font-size="9" fill="#1a1a1a" stroke="#1a1a1a" stroke-width="0.15" textLength="51" lengthAdjust="spacingAndGlyphs">Granulocytes</text>
<line x1="490.8" y1="73.5" x2="485.52" y2="79.58" stroke="#111" stroke-width="1.1"/><polygon points="482.9,82.6 483.86,78.14 487.18,81.02" fill="#111"/>
<text x="393.3" y="101.8" font-size="9" fill="#1a1a1a" stroke="#1a1a1a" stroke-width="0.15" textLength="17" lengthAdjust="spacingAndGlyphs">CLP</text>
<line x1="401.2" y1="105.2" x2="404.93" y2="108.33" stroke="#111" stroke-width="1.1"/><polygon points="408,110.9 403.52,110.02 406.35,106.64" fill="#111"/>
<text x="408" y="164.2" font-size="9" fill="#1a1a1a" stroke="#1a1a1a" stroke-width="0.15" textLength="34" lengthAdjust="spacingAndGlyphs">Dendritic</text>
<text x="416.2" y="175.6" font-size="9" fill="#1a1a1a" stroke="#1a1a1a" stroke-width="0.15" textLength="17.3" lengthAdjust="spacingAndGlyphs">cells</text>
<line x1="440.9" y1="167.6" x2="446.73" y2="165.54" stroke="#111" stroke-width="1.1"/><polygon points="450.5,164.2 447.46,167.61 446.00,163.46" fill="#111"/>
<text x="464.7" y="164.2" font-size="9" fill="#1a1a1a" stroke="#1a1a1a" stroke-width="0.15" textLength="42" lengthAdjust="spacingAndGlyphs">Monocytes</text>
<line x1="494.2" y1="156.3" x2="482.67" y2="147.44" stroke="#111" stroke-width="1.1"/><polygon points="479.5,145 484.01,145.69 481.33,149.18" fill="#111"/>
<text x="455.7" y="246.1" font-size="9" fill="#1a1a1a" stroke="#1a1a1a" stroke-width="0.15" textLength="51" lengthAdjust="spacingAndGlyphs">Granulocytes</text>
<line x1="490.8" y1="249.5" x2="484.81" y2="254.76" stroke="#111" stroke-width="1.1"/><polygon points="481.8,257.4 483.35,253.11 486.26,256.41" fill="#111"/>
<text x="397.8" y="341.3" font-size="9" fill="#1a1a1a" stroke="#1a1a1a" stroke-width="0.15" textLength="35" lengthAdjust="spacingAndGlyphs">Dendritic</text>
<text x="407.2" y="352.7" font-size="9" fill="#1a1a1a" stroke="#1a1a1a" stroke-width="0.15" textLength="16.6" lengthAdjust="spacingAndGlyphs">cells</text>
<line x1="434.1" y1="343.6" x2="446.58" y2="341.01" stroke="#111" stroke-width="1.1"/><polygon points="450.5,340.2 447.03,343.17 446.14,338.86" fill="#111"/>
<text x="463.6" y="348.1" font-size="9" fill="#1a1a1a" stroke="#1a1a1a" stroke-width="0.15" textLength="43" lengthAdjust="spacingAndGlyphs">Monocytes</text>
<line x1="495.4" y1="340.2" x2="484.11" y2="324.26" stroke="#111" stroke-width="1.1"/><polygon points="481.8,321 485.91,322.99 482.32,325.54" fill="#111"/>
<line x1="20.7" y1="395.5" x2="20.70" y2="368.20" stroke="#111" stroke-width="1.8"/><polygon points="20.7,357.2 26.10,368.20 15.30,368.20" fill="#111"/>
<line x1="20.7" y1="394.6" x2="52.50" y2="394.60" stroke="#111" stroke-width="1.8"/><polygon points="64.5,394.6 52.50,399.80 52.50,389.40" fill="#111"/>
<text transform="translate(23.5,352.6) rotate(-90)" font-size="12.5" font-weight="bold" fill="#111" textLength="40" lengthAdjust="spacingAndGlyphs">UMAP_2</text>
<text x="70.3" y="400.8" font-size="12.5" font-weight="bold" fill="#111" textLength="39.7" lengthAdjust="spacingAndGlyphs">UMAP_1</text>
<rect x="279.2" y="405" width="55.8" height="9.2" fill="url(#gCB)"/>
<text x="264.8" y="400.8" font-size="9" fill="#222" textLength="17.3" lengthAdjust="spacingAndGlyphs">Low</text>
<text x="328.8" y="400.8" font-size="9" fill="#222" textLength="20" lengthAdjust="spacingAndGlyphs">High</text>
<rect x="98.90" y="544.46" width="18.3" height="48.55" fill="#ac4544"/>
<rect x="117.20" y="535.70" width="18.3" height="57.30" fill="#4f5a8e"/>
<rect x="139.20" y="553.76" width="18.3" height="39.24" fill="#ac4544"/>
<rect x="157.50" y="525.84" width="18.3" height="67.16" fill="#4f5a8e"/>
<rect x="180.40" y="569.64" width="18.3" height="23.36" fill="#ac4544"/>
<rect x="198.70" y="533.14" width="18.3" height="59.86" fill="#4f5a8e"/>
<rect x="221.60" y="560.88" width="18.3" height="32.12" fill="#ac4544"/>
<rect x="239.90" y="527.66" width="18.3" height="65.33" fill="#4f5a8e"/>
<path d="M107.65 550.66V536.79M102.05 550.66h11.2M102.05 536.79h11.2" stroke="#151515" stroke-width="1.6" fill="none"/>
<circle cx="107.65" cy="513.07" r="1.6" fill="#151515"/>
<circle cx="107.65" cy="542.63" r="1.6" fill="#151515"/>
<circle cx="107.65" cy="560.51" r="1.6" fill="#151515"/>
<circle cx="107.65" cy="565.99" r="1.6" fill="#151515"/>
<path d="M126.75 543.73V529.49M121.15 543.73h11.2M121.15 529.49h11.2" stroke="#151515" stroke-width="1.6" fill="none"/>
<circle cx="126.75" cy="514.52" r="1.6" fill="#151515"/>
<circle cx="126.75" cy="519.27" r="1.6" fill="#151515"/>
<circle cx="126.75" cy="524.38" r="1.6" fill="#151515"/>
<circle cx="126.75" cy="545.18" r="1.6" fill="#151515"/>
<circle cx="126.75" cy="551.39" r="1.6" fill="#151515"/>
<circle cx="126.75" cy="556.50" r="1.6" fill="#151515"/>
<path d="M147.95 557.96V549.93M142.35 557.96h11.2M142.35 549.93h11.2" stroke="#151515" stroke-width="1.6" fill="none"/>
<circle cx="147.95" cy="537.88" r="1.6" fill="#151515"/>
<circle cx="147.95" cy="559.78" r="1.6" fill="#151515"/>
<circle cx="147.95" cy="562.71" r="1.6" fill="#151515"/>
<path d="M167.05 530.22V521.46M161.45 530.22h11.2M161.45 521.46h11.2" stroke="#151515" stroke-width="1.6" fill="none"/>
<circle cx="167.05" cy="518.54" r="1.6" fill="#151515"/>
<circle cx="167.05" cy="537.88" r="1.6" fill="#151515"/>
<circle cx="167.05" cy="542.63" r="1.6" fill="#151515"/>
<path d="M189.15 575.12V564.53M183.55 575.12h11.2M183.55 564.53h11.2" stroke="#151515" stroke-width="1.6" fill="none"/>
<circle cx="189.15" cy="552.49" r="1.6" fill="#151515"/>
<circle cx="189.15" cy="556.87" r="1.6" fill="#151515"/>
<circle cx="189.15" cy="571.47" r="1.6" fill="#151515"/>
<circle cx="189.15" cy="579.50" r="1.6" fill="#151515"/>
<path d="M208.25 540.44V525.84M202.65 540.44h11.2M202.65 525.84h11.2" stroke="#151515" stroke-width="1.6" fill="none"/>
<circle cx="208.25" cy="507.95" r="1.6" fill="#151515"/>
<circle cx="208.25" cy="527.66" r="1.6" fill="#151515"/>
<circle cx="208.25" cy="534.97" r="1.6" fill="#151515"/>
<circle cx="208.25" cy="565.26" r="1.6" fill="#151515"/>
<path d="M230.35 564.53V559.05M224.75 564.53h11.2M224.75 559.05h11.2" stroke="#151515" stroke-width="1.6" fill="none"/>
<circle cx="230.35" cy="549.57" r="1.6" fill="#151515"/>
<circle cx="230.35" cy="562.34" r="1.6" fill="#151515"/>
<circle cx="230.35" cy="574.75" r="1.6" fill="#151515"/>
<path d="M249.45 536.06V520.73M243.85 536.06h11.2M243.85 520.73h11.2" stroke="#151515" stroke-width="1.6" fill="none"/>
<circle cx="249.45" cy="512.70" r="1.6" fill="#151515"/>
<circle cx="249.45" cy="515.25" r="1.6" fill="#151515"/>
<circle cx="249.45" cy="525.11" r="1.6" fill="#151515"/>
<circle cx="249.45" cy="530.59" r="1.6" fill="#151515"/>
<circle cx="249.45" cy="562.34" r="1.6" fill="#151515"/>
<path d="M93.5 486.5V593H262.7" stroke="#000" stroke-width="1.8" fill="none"/>
<text x="82.3" y="596.70" text-anchor="end" font-size="10" fill="#222">0</text>
<text x="82.3" y="560.20" text-anchor="end" font-size="10" fill="#222">10</text>
<text x="82.3" y="523.70" text-anchor="end" font-size="10" fill="#222">20</text>
<path d="M93.5 593.00h-4.6 M93.5 556.50h-4.6 M93.5 520.00h-4.6 M117.20 593v5 M157.50 593v5 M198.70 593v5 M239.90 593v5" stroke="#000" stroke-width="1.3"/>
<text x="117.20" y="613.6" text-anchor="middle" font-size="10" fill="#222">7</text>
<text x="157.50" y="613.6" text-anchor="middle" font-size="10" fill="#222">14</text>
<text x="198.70" y="613.6" text-anchor="middle" font-size="10" fill="#222">21</text>
<text x="239.90" y="613.6" text-anchor="middle" font-size="10" fill="#222">28</text>
<path d="M106.4 496.8H131.8" stroke="#111" stroke-width="1.5"/>
<text x="119.10" y="497.0" text-anchor="middle" font-size="14" fill="#111">*</text>
<path d="M149.4 496.8H174.6" stroke="#111" stroke-width="1.5"/>
<text x="162.00" y="497.0" text-anchor="middle" font-size="14" fill="#111">**</text>
<path d="M187.9 496.8H212.9" stroke="#111" stroke-width="1.5"/>
<text x="200.40" y="497.0" text-anchor="middle" font-size="14" fill="#111">**</text>
<path d="M228.3 496.8H253.3" stroke="#111" stroke-width="1.5"/>
<text x="240.80" y="497.0" text-anchor="middle" font-size="14" fill="#111">**</text>
<rect x="307.50" y="589.98" width="18.3" height="3.02" fill="#ac4544"/>
<rect x="325.80" y="586.96" width="18.3" height="6.04" fill="#4f5a8e"/>
<rect x="348.10" y="578.79" width="18.3" height="14.21" fill="#ac4544"/>
<rect x="366.40" y="561.56" width="18.3" height="31.44" fill="#4f5a8e"/>
<rect x="389.20" y="556.59" width="18.3" height="36.41" fill="#ac4544"/>
<rect x="407.50" y="525.87" width="18.3" height="67.13" fill="#4f5a8e"/>
<rect x="429.80" y="550.02" width="18.3" height="42.98" fill="#ac4544"/>
<rect x="448.10" y="530.48" width="18.3" height="62.52" fill="#4f5a8e"/>
<path d="M316.25 591.05V589.09M310.65 591.05h11.2M310.65 589.09h11.2" stroke="#151515" stroke-width="1.6" fill="none"/>
<circle cx="316.25" cy="588.56" r="1.6" fill="#151515"/>
<circle cx="316.25" cy="590.16" r="1.6" fill="#151515"/>
<path d="M335.35 589.09V584.48M329.75 589.09h11.2M329.75 584.48h11.2" stroke="#151515" stroke-width="1.6" fill="none"/>
<circle cx="335.35" cy="578.08" r="1.6" fill="#151515"/>
<circle cx="335.35" cy="586.43" r="1.6" fill="#151515"/>
<circle cx="335.35" cy="589.09" r="1.6" fill="#151515"/>
<path d="M356.85 580.92V575.60M351.25 580.92h11.2M351.25 575.60h11.2" stroke="#151515" stroke-width="1.6" fill="none"/>
<circle cx="356.85" cy="567.07" r="1.6" fill="#151515"/>
<circle cx="356.85" cy="576.84" r="1.6" fill="#151515"/>
<circle cx="356.85" cy="589.09" r="1.6" fill="#151515"/>
<path d="M375.95 567.43V556.24M370.35 567.43h11.2M370.35 556.24h11.2" stroke="#151515" stroke-width="1.6" fill="none"/>
<circle cx="375.95" cy="543.98" r="1.6" fill="#151515"/>
<circle cx="375.95" cy="553.93" r="1.6" fill="#151515"/>
<circle cx="375.95" cy="575.60" r="1.6" fill="#151515"/>
<circle cx="375.95" cy="578.26" r="1.6" fill="#151515"/>
<path d="M397.95 560.14V551.26M392.35 560.14h11.2M392.35 551.26h11.2" stroke="#151515" stroke-width="1.6" fill="none"/>
<circle cx="397.95" cy="533.50" r="1.6" fill="#151515"/>
<circle cx="397.95" cy="556.41" r="1.6" fill="#151515"/>
<circle cx="397.95" cy="567.43" r="1.6" fill="#151515"/>
<path d="M417.05 529.77V520.36M411.45 529.77h11.2M411.45 520.36h11.2" stroke="#151515" stroke-width="1.6" fill="none"/>
<circle cx="417.05" cy="505.98" r="1.6" fill="#151515"/>
<circle cx="417.05" cy="522.85" r="1.6" fill="#151515"/>
<circle cx="417.05" cy="533.50" r="1.6" fill="#151515"/>
<path d="M438.55 557.84V542.56M432.95 557.84h11.2M432.95 542.56h11.2" stroke="#151515" stroke-width="1.6" fill="none"/>
<circle cx="438.55" cy="528.00" r="1.6" fill="#151515"/>
<circle cx="438.55" cy="533.50" r="1.6" fill="#151515"/>
<circle cx="438.55" cy="556.41" r="1.6" fill="#151515"/>
<circle cx="438.55" cy="578.08" r="1.6" fill="#151515"/>
<path d="M457.65 536.35V524.45M452.05 536.35h11.2M452.05 524.45h11.2" stroke="#151515" stroke-width="1.6" fill="none"/>
<circle cx="457.65" cy="505.98" r="1.6" fill="#151515"/>
<circle cx="457.65" cy="527.29" r="1.6" fill="#151515"/>
<circle cx="457.65" cy="549.49" r="1.6" fill="#151515"/>
<path d="M302 486.7V593H471.5" stroke="#000" stroke-width="1.8" fill="none"/>
<text x="290.8" y="596.70" text-anchor="end" font-size="10" fill="#222">0</text>
<text x="290.8" y="578.94" text-anchor="end" font-size="10" fill="#222">10</text>
<text x="290.8" y="561.18" text-anchor="end" font-size="10" fill="#222">20</text>
<text x="290.8" y="543.42" text-anchor="end" font-size="10" fill="#222">30</text>
<text x="290.8" y="525.66" text-anchor="end" font-size="10" fill="#222">40</text>
<text x="290.8" y="507.90" text-anchor="end" font-size="10" fill="#222">50</text>
<path d="M302 593.00h-4.6 M302 575.24h-4.6 M302 557.48h-4.6 M302 539.72h-4.6 M302 521.96h-4.6 M302 504.20h-4.6 M325.80 593v5 M366.40 593v5 M407.50 593v5 M448.10 593v5" stroke="#000" stroke-width="1.3"/>
<text x="325.80" y="613.6" text-anchor="middle" font-size="10" fill="#222">7</text>
<text x="366.40" y="613.6" text-anchor="middle" font-size="10" fill="#222">14</text>
<text x="407.50" y="613.6" text-anchor="middle" font-size="10" fill="#222">21</text>
<text x="448.10" y="613.6" text-anchor="middle" font-size="10" fill="#222">28</text>
<path d="M353.2 496.7H378.8" stroke="#111" stroke-width="1.5"/>
<text x="366.00" y="496.9" text-anchor="middle" font-size="14" fill="#111">**</text>
<path d="M395.5 496.7H420.4" stroke="#111" stroke-width="1.5"/>
<text x="407.95" y="496.9" text-anchor="middle" font-size="14" fill="#111">****</text>
<path d="M438.7 496.7H463.5" stroke="#111" stroke-width="1.5"/>
<text x="451.10" y="496.9" text-anchor="middle" font-size="14" fill="#111">**</text>
<rect x="98.90" y="763.31" width="18.3" height="4.09" fill="#ac4544"/>
<rect x="117.20" y="765.80" width="18.3" height="1.60" fill="#4f5a8e"/>
<rect x="139.40" y="752.45" width="18.3" height="14.95" fill="#ac4544"/>
<rect x="157.70" y="765.80" width="18.3" height="1.60" fill="#4f5a8e"/>
<rect x="180.40" y="743.73" width="18.3" height="23.67" fill="#ac4544"/>
<rect x="198.70" y="761.17" width="18.3" height="6.23" fill="#4f5a8e"/>
<rect x="221.60" y="732.16" width="18.3" height="35.24" fill="#ac4544"/>
<rect x="239.90" y="761.17" width="18.3" height="6.23" fill="#4f5a8e"/>
<path d="M107.65 765.26V761.17M102.05 765.26h11.2M102.05 761.17h11.2" stroke="#151515" stroke-width="1.6" fill="none"/>
<circle cx="107.65" cy="758.50" r="1.6" fill="#151515"/>
<circle cx="107.65" cy="763.84" r="1.6" fill="#151515"/>
<path d="M126.75 765.80V765.80M121.15 765.80h11.2M121.15 765.80h11.2" stroke="#151515" stroke-width="1.6" fill="none"/>
<path d="M148.15 754.23V748.89M142.55 754.23h11.2M142.55 748.89h11.2" stroke="#151515" stroke-width="1.6" fill="none"/>
<circle cx="148.15" cy="746.22" r="1.6" fill="#151515"/>
<circle cx="148.15" cy="762.42" r="1.6" fill="#151515"/>
<path d="M167.25 765.80V765.80M161.65 765.80h11.2M161.65 765.80h11.2" stroke="#151515" stroke-width="1.6" fill="none"/>
<path d="M189.15 747.29V740.34M183.55 747.29h11.2M183.55 740.34h11.2" stroke="#151515" stroke-width="1.6" fill="none"/>
<circle cx="189.15" cy="730.20" r="1.6" fill="#151515"/>
<circle cx="189.15" cy="738.39" r="1.6" fill="#151515"/>
<circle cx="189.15" cy="753.16" r="1.6" fill="#151515"/>
<path d="M208.25 762.95V759.39M202.65 762.95h11.2M202.65 759.39h11.2" stroke="#151515" stroke-width="1.6" fill="none"/>
<circle cx="208.25" cy="753.87" r="1.6" fill="#151515"/>
<circle cx="208.25" cy="763.84" r="1.6" fill="#151515"/>
<path d="M230.35 742.66V720.59M224.75 742.66h11.2M224.75 720.59h11.2" stroke="#151515" stroke-width="1.6" fill="none"/>
<circle cx="230.35" cy="680.18" r="1.6" fill="#151515"/>
<circle cx="230.35" cy="737.50" r="1.6" fill="#151515"/>
<circle cx="230.35" cy="747.82" r="1.6" fill="#151515"/>
<path d="M249.45 762.77V759.39M243.85 762.77h11.2M243.85 759.39h11.2" stroke="#151515" stroke-width="1.6" fill="none"/>
<circle cx="249.45" cy="753.87" r="1.6" fill="#151515"/>
<circle cx="249.45" cy="762.06" r="1.6" fill="#151515"/>
<path d="M94.2 661.5V767.4H262.7" stroke="#000" stroke-width="1.8" fill="none"/>
<text x="83.0" y="771.10" text-anchor="end" font-size="10" fill="#222">0</text>
<text x="83.0" y="753.30" text-anchor="end" font-size="10" fill="#222">10</text>
<text x="83.0" y="735.50" text-anchor="end" font-size="10" fill="#222">20</text>
<text x="83.0" y="717.70" text-anchor="end" font-size="10" fill="#222">30</text>
<text x="83.0" y="699.90" text-anchor="end" font-size="10" fill="#222">40</text>
<text x="83.0" y="682.10" text-anchor="end" font-size="10" fill="#222">50</text>
<path d="M94.2 767.40h-4.6 M94.2 749.60h-4.6 M94.2 731.80h-4.6 M94.2 714.00h-4.6 M94.2 696.20h-4.6 M94.2 678.40h-4.6 M117.20 767.4v5 M157.70 767.4v5 M198.70 767.4v5 M239.90 767.4v5" stroke="#000" stroke-width="1.3"/>
<text x="117.20" y="788" text-anchor="middle" font-size="10" fill="#222">7</text>
<text x="157.70" y="788" text-anchor="middle" font-size="10" fill="#222">14</text>
<text x="198.70" y="788" text-anchor="middle" font-size="10" fill="#222">21</text>
<text x="239.90" y="788" text-anchor="middle" font-size="10" fill="#222">28</text>
<path d="M139.1 672.5H164.0" stroke="#111" stroke-width="1.5"/>
<text x="151.55" y="672.7" text-anchor="middle" font-size="14" fill="#111">**</text>
<path d="M184.3 672.5H208.7" stroke="#111" stroke-width="1.5"/>
<text x="196.50" y="672.7" text-anchor="middle" font-size="14" fill="#111">**</text>
<path d="M228.5 672.5H253.4" stroke="#111" stroke-width="1.5"/>
<text x="240.95" y="672.7" text-anchor="middle" font-size="14" fill="#111">*</text>
<circle cx="119.20" cy="765.4" r="1.6" fill="#1a2040"/><circle cx="122.40" cy="765.4" r="1.6" fill="#1a2040"/><circle cx="125.60" cy="765.4" r="1.6" fill="#1a2040"/><circle cx="128.80" cy="765.4" r="1.6" fill="#1a2040"/><circle cx="132.00" cy="765.4" r="1.6" fill="#1a2040"/><circle cx="135.20" cy="765.4" r="1.6" fill="#1a2040"/>
<circle cx="159.70" cy="765.4" r="1.6" fill="#1a2040"/><circle cx="162.90" cy="765.4" r="1.6" fill="#1a2040"/><circle cx="166.10" cy="765.4" r="1.6" fill="#1a2040"/><circle cx="169.30" cy="765.4" r="1.6" fill="#1a2040"/><circle cx="172.50" cy="765.4" r="1.6" fill="#1a2040"/><circle cx="175.70" cy="765.4" r="1.6" fill="#1a2040"/>
<rect x="307.40" y="709.00" width="18.3" height="58.40" fill="#ac4544"/>
<rect x="325.70" y="729.44" width="18.3" height="37.96" fill="#4f5a8e"/>
<rect x="347.80" y="722.87" width="18.3" height="44.53" fill="#ac4544"/>
<rect x="366.10" y="741.85" width="18.3" height="25.55" fill="#4f5a8e"/>
<rect x="389.20" y="734.55" width="18.3" height="32.85" fill="#ac4544"/>
<rect x="407.50" y="745.13" width="18.3" height="22.26" fill="#4f5a8e"/>
<rect x="429.60" y="739.66" width="18.3" height="27.74" fill="#ac4544"/>
<rect x="447.90" y="741.12" width="18.3" height="26.28" fill="#4f5a8e"/>
<path d="M316.15 716.30V702.43M310.55 716.30h11.2M310.55 702.43h11.2" stroke="#151515" stroke-width="1.6" fill="none"/>
<circle cx="316.15" cy="681.26" r="1.6" fill="#151515"/>
<circle cx="316.15" cy="706.81" r="1.6" fill="#151515"/>
<circle cx="316.15" cy="713.38" r="1.6" fill="#151515"/>
<circle cx="316.15" cy="721.41" r="1.6" fill="#151515"/>
<circle cx="316.15" cy="726.52" r="1.6" fill="#151515"/>
<path d="M335.25 734.55V725.79M329.65 734.55h11.2M329.65 725.79h11.2" stroke="#151515" stroke-width="1.6" fill="none"/>
<circle cx="335.25" cy="714.84" r="1.6" fill="#151515"/>
<circle cx="335.25" cy="722.87" r="1.6" fill="#151515"/>
<circle cx="335.25" cy="733.82" r="1.6" fill="#151515"/>
<circle cx="335.25" cy="744.04" r="1.6" fill="#151515"/>
<path d="M356.55 732.36V712.65M350.95 732.36h11.2M350.95 712.65h11.2" stroke="#151515" stroke-width="1.6" fill="none"/>
<circle cx="356.55" cy="681.26" r="1.6" fill="#151515"/>
<circle cx="356.55" cy="709.00" r="1.6" fill="#151515"/>
<circle cx="356.55" cy="727.25" r="1.6" fill="#151515"/>
<circle cx="356.55" cy="741.85" r="1.6" fill="#151515"/>
<path d="M375.65 747.69V736.74M370.05 747.69h11.2M370.05 736.74h11.2" stroke="#151515" stroke-width="1.6" fill="none"/>
<circle cx="375.65" cy="716.30" r="1.6" fill="#151515"/>
<circle cx="375.65" cy="735.28" r="1.6" fill="#151515"/>
<circle cx="375.65" cy="741.85" r="1.6" fill="#151515"/>
<circle cx="375.65" cy="749.15" r="1.6" fill="#151515"/>
<circle cx="375.65" cy="755.72" r="1.6" fill="#151515"/>
<path d="M397.95 737.47V732.36M392.35 737.47h11.2M392.35 732.36h11.2" stroke="#151515" stroke-width="1.6" fill="none"/>
<circle cx="397.95" cy="725.79" r="1.6" fill="#151515"/>
<circle cx="397.95" cy="733.82" r="1.6" fill="#151515"/>
<circle cx="397.95" cy="743.31" r="1.6" fill="#151515"/>
<path d="M417.05 747.69V741.85M411.45 747.69h11.2M411.45 741.85h11.2" stroke="#151515" stroke-width="1.6" fill="none"/>
<circle cx="417.05" cy="734.55" r="1.6" fill="#151515"/>
<circle cx="417.05" cy="741.85" r="1.6" fill="#151515"/>
<circle cx="417.05" cy="749.15" r="1.6" fill="#151515"/>
<circle cx="417.05" cy="755.72" r="1.6" fill="#151515"/>
<path d="M438.35 743.31V736.01M432.75 743.31h11.2M432.75 736.01h11.2" stroke="#151515" stroke-width="1.6" fill="none"/>
<circle cx="438.35" cy="727.25" r="1.6" fill="#151515"/>
<circle cx="438.35" cy="741.85" r="1.6" fill="#151515"/>
<circle cx="438.35" cy="750.61" r="1.6" fill="#151515"/>
<path d="M457.45 744.77V736.74M451.85 744.77h11.2M451.85 736.74h11.2" stroke="#151515" stroke-width="1.6" fill="none"/>
<circle cx="457.45" cy="727.25" r="1.6" fill="#151515"/>
<circle cx="457.45" cy="738.93" r="1.6" fill="#151515"/>
<circle cx="457.45" cy="752.07" r="1.6" fill="#151515"/>
<path d="M301.8 661.5V767.4H471.5" stroke="#000" stroke-width="1.8" fill="none"/>
<text x="290.6" y="771.10" text-anchor="end" font-size="10" fill="#222">0</text>
<text x="290.6" y="734.60" text-anchor="end" font-size="10" fill="#222">5</text>
<text x="290.6" y="698.10" text-anchor="end" font-size="10" fill="#222">10</text>
<path d="M301.8 767.40h-4.6 M301.8 730.90h-4.6 M301.8 694.40h-4.6 M325.70 767.4v5 M366.10 767.4v5 M407.50 767.4v5 M447.90 767.4v5" stroke="#000" stroke-width="1.3"/>
<text x="325.70" y="788" text-anchor="middle" font-size="10" fill="#222">7</text>
<text x="366.10" y="788" text-anchor="middle" font-size="10" fill="#222">14</text>
<text x="407.50" y="788" text-anchor="middle" font-size="10" fill="#222">21</text>
<text x="447.90" y="788" text-anchor="middle" font-size="10" fill="#222">28</text>
<path d="M317.9 672.5H343.2" stroke="#111" stroke-width="1.5"/>
<text x="330.55" y="672.7" text-anchor="middle" font-size="14" fill="#111">*</text>
<path d="M394.8 672.5H419.8" stroke="#111" stroke-width="1.5"/>
<text x="407.30" y="672.7" text-anchor="middle" font-size="14" fill="#111">**</text>
<text x="98.3" y="478.2" font-size="13.3" fill="#1a1a1a" textLength="158.5" lengthAdjust="spacingAndGlyphs">CD14<tspan dy="-5.5" font-size="10.5">+</tspan><tspan dy="5.5"> cells (Monocytes)</tspan></text>
<text x="317.2" y="460.3" font-size="13.3" fill="#1a1a1a" textLength="135.5" lengthAdjust="spacingAndGlyphs">CD66b<tspan dy="-5.5" font-size="10.5">+</tspan><tspan dy="5.5"> CD14</tspan><tspan dy="-5.5" font-size="10.5">−</tspan><tspan dy="5.5"> cells</tspan></text>
<text x="341.7" y="476.2" font-size="13.3" fill="#1a1a1a" textLength="88" lengthAdjust="spacingAndGlyphs">(Granulocytes)</text>
<text x="87.7" y="652.6" font-size="13.3" fill="#1a1a1a" textLength="183.5" lengthAdjust="spacingAndGlyphs">CD10<tspan dy="-5.5" font-size="10.5">+</tspan><tspan dy="5.5"> cells (Lymphoid cells)</tspan></text>
<text x="298.5" y="651.2" font-size="13.3" fill="#1a1a1a" textLength="178" lengthAdjust="spacingAndGlyphs">CD1c<tspan dy="-5.5" font-size="10.5">+</tspan><tspan dy="5.5"> CD14</tspan><tspan dy="-5.5" font-size="10.5">−</tspan><tspan dy="5.5"> cells (cDC2)</tspan></text>
<text transform="translate(55.2,686) rotate(-90)" font-size="12.5" fill="#111" stroke="#111" stroke-width="0.3" textLength="141" lengthAdjust="spacingAndGlyphs">Percent cells in total population</text>
<text x="264.9" y="807.8" font-size="12" font-weight="bold" fill="#111" textLength="16.3" lengthAdjust="spacingAndGlyphs">Day</text>
<rect x="211.5" y="827.7" width="11.5" height="11.5" fill="#a01c2e"/>
<text x="228" y="838.6" font-size="12.7" fill="#1a1a1a" textLength="38.8" lengthAdjust="spacingAndGlyphs">Vehicle</text>
<rect x="283.3" y="827.7" width="11.5" height="11.5" fill="#27387c"/>
<text x="300.3" y="838.6" font-size="12.7" fill="#1a1a1a" textLength="33.3" lengthAdjust="spacingAndGlyphs">TCDD</text>
<rect x="0.5" y="0.5" width="519" height="851.5" fill="none" stroke="#000" stroke-width="1.2"/>
<rect x="0" y="851.2" width="520" height="1.8" fill="#000"/>
</svg></body></html>
